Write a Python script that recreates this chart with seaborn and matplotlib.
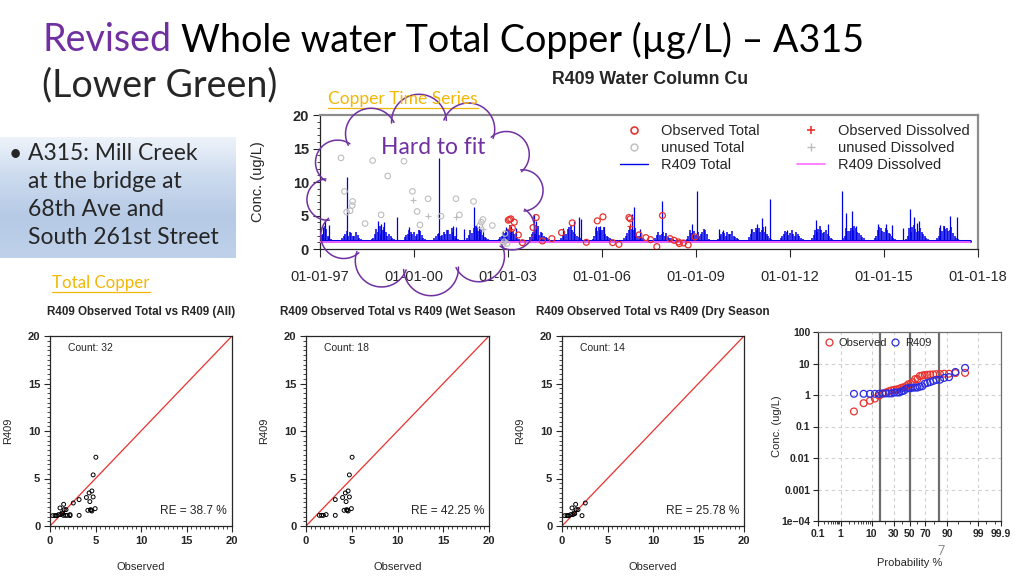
import numpy as np
import pandas as pd
import matplotlib
matplotlib.use("Agg")
import matplotlib.pyplot as plt
import seaborn as sns
from matplotlib.lines import Line2D
from matplotlib.ticker import MultipleLocator, FixedLocator
from statistics import NormalDist

# ---------------- values ----------------
# R409 total Cu background "grass": two interleaved samplings, every 0.1 yr from 1997.0 / 1997.05
grass_start = 1997.0
grass_step = 0.1
grass_conc = [
    2.8, 2.3, 3.0, 1.8, 1.4, 1.3, 1.2, 1.6, 2.2, 2.0,   # 1997
    2.4, 1.9, 2.1, 1.5, 1.3, 1.2, 1.3, 1.7, 3.0, 3.4,   # 1998
    2.9, 2.5, 2.2, 1.6, 1.4, 1.2, 1.3, 1.8, 2.3, 2.6,   # 1999
    2.5, 2.2, 2.7, 1.7, 1.3, 1.2, 1.4, 1.9, 2.4, 2.1,   # 2000
    2.3, 2.8, 3.2, 2.0, 1.5, 1.3, 1.2, 1.6, 2.9, 3.1,   # 2001
    3.3, 2.6, 2.1, 1.6, 1.3, 1.2, 1.3, 1.5, 2.0, 2.4,   # 2002
    3.0, 3.3, 2.2, 1.7, 1.4, 1.2, 1.3, 1.8, 2.6, 2.9,   # 2003
    2.1, 2.4, 1.8, 1.5, 1.3, 1.2, 1.2, 1.6, 2.7, 3.0,   # 2004
    3.4, 2.5, 2.0, 1.6, 1.3, 1.2, 1.2, 1.5, 3.1, 3.3,   # 2005
    2.9, 2.2, 1.8, 1.5, 1.3, 1.2, 1.2, 1.6, 2.4, 3.5,   # 2006
    2.8, 2.3, 2.0, 1.6, 1.3, 1.2, 1.3, 1.7, 2.5, 2.2,   # 2007
    2.0, 1.8, 1.6, 1.4, 1.2, 1.2, 1.2, 1.5, 2.9, 2.3,   # 2008
    2.1, 1.9, 2.6, 2.8, 1.5, 1.3, 1.2, 1.5, 2.2, 2.4,   # 2009
    2.6, 2.3, 2.0, 1.7, 1.4, 1.2, 1.3, 1.8, 3.0, 3.2,   # 2010
    3.1, 2.9, 2.5, 2.0, 1.5, 1.3, 1.2, 1.6, 2.3, 2.5,   # 2011
    2.4, 2.2, 2.6, 1.9, 1.5, 1.2, 1.2, 1.7, 2.9, 3.0,   # 2012
    2.8, 2.5, 2.2, 1.7, 1.4, 1.2, 1.3, 1.6, 3.2, 2.7,   # 2013
    2.9, 3.1, 2.4, 1.8, 1.4, 1.2, 1.2, 1.6, 2.8, 3.2,   # 2014
    2.6, 2.9, 2.3, 1.7, 1.4, 1.2, 1.2, 1.5, 3.1, 3.3,   # 2015
    3.0, 2.7, 2.6, 1.9, 1.5, 1.3, 1.2, 1.6, 3.2, 3.4,   # 2016
    3.1, 2.8, 2.4, 1.7, 1.4, 1.2, 1.2, 1.3,             # 2017
]
grass2_start = 1997.05
grass2_conc = [
    2.1, 3.4, 2.0, 1.5, 1.3, 1.2, 1.4, 1.9, 2.7, 2.5,   # 1997
    2.0, 2.6, 1.7, 1.4, 1.2, 1.2, 1.5, 2.2, 2.6, 2.2,   # 1998
    3.3, 2.0, 1.9, 1.5, 1.3, 1.2, 1.4, 2.1, 2.8, 2.2,   # 1999
    2.0, 2.9, 2.1, 1.5, 1.3, 1.2, 1.6, 2.3, 2.0, 2.6,   # 2000
    2.9, 2.2, 2.6, 1.7, 1.4, 1.2, 1.3, 2.1, 2.4, 3.4,   # 2001
    2.7, 3.0, 1.8, 1.5, 1.2, 1.2, 1.4, 1.8, 2.5, 2.9,   # 2002
    3.6, 2.7, 1.9, 1.5, 1.3, 1.2, 1.4, 2.2, 2.2, 3.4,   # 2003
    2.6, 2.0, 1.6, 1.4, 1.2, 1.2, 1.3, 2.0, 2.3, 3.3,   # 2004
    2.8, 2.2, 1.8, 1.4, 1.2, 1.2, 1.3, 2.0, 2.7, 2.9,   # 2005
    3.3, 2.0, 1.6, 1.4, 1.2, 1.2, 1.3, 2.0, 2.9, 3.0,   # 2006
    3.2, 2.0, 1.8, 1.5, 1.2, 1.2, 1.4, 2.1, 2.1, 2.6,   # 2007
    2.4, 1.6, 1.5, 1.3, 1.2, 1.2, 1.3, 1.9, 2.4, 2.7,   # 2008
    2.5, 2.2, 3.0, 2.2, 1.4, 1.2, 1.3, 1.9, 2.6, 2.0,   # 2009
    2.2, 2.7, 1.8, 1.5, 1.3, 1.2, 1.4, 2.2, 2.6, 2.8,   # 2010
    2.6, 3.3, 2.2, 1.7, 1.4, 1.2, 1.3, 2.0, 2.7, 2.1,   # 2011
    2.8, 1.9, 2.3, 1.7, 1.3, 1.2, 1.3, 2.1, 2.5, 3.4,   # 2012
    2.4, 2.9, 1.9, 1.5, 1.3, 1.2, 1.4, 2.0, 2.7, 3.1,   # 2013
    3.4, 2.6, 2.1, 1.6, 1.3, 1.2, 1.3, 2.0, 3.3, 2.7,   # 2014
    3.1, 2.4, 2.0, 1.5, 1.3, 1.2, 1.3, 1.9, 2.6, 3.6,   # 2015
    2.6, 3.2, 2.2, 1.7, 1.4, 1.2, 1.3, 2.0, 2.7, 3.0,   # 2016
    2.7, 3.3, 2.0, 1.5, 1.3, 1.2, 1.3,                  # 2017
]
# storm peaks of the R409 total series
peak_year = [1997.08, 1997.16, 1997.30, 1997.85, 1998.85, 1998.95, 1999.05, 1999.46,
             1999.85, 2000.15, 2000.80, 2001.25, 2001.33, 2001.60, 2001.90, 2001.97,
             2002.08, 2002.20, 2002.95, 2003.10, 2003.25, 2003.82, 2003.88, 2004.75,
             2005.10, 2005.25, 2005.32, 2005.80, 2005.95, 2006.05, 2006.95, 2007.02,
             2007.20, 2007.92, 2008.86, 2009.02, 2009.72, 2009.85, 2010.75, 2010.95,
             2011.10, 2011.20, 2011.37, 2011.90, 2012.82, 2012.95, 2013.20, 2013.67,
             2013.80, 2013.97, 2014.10, 2014.82, 2015.05, 2015.25, 2015.60, 2015.83,
             2015.95, 2016.05, 2016.12, 2016.80, 2016.90, 2017.10, 2017.32]
peak_conc = [3.3, 4.2, 3.6, 10.8, 4.2, 3.7, 4.0, 4.8,
             3.3, 2.8, 13.6, 3.5, 3.3, 3.0, 6.2, 3.6,
             3.4, 3.2, 3.3, 3.5, 3.2, 5.2, 4.2, 3.2,
             4.2, 4.8, 4.5, 3.5, 3.5, 3.3, 5.2, 6.3,
             3.0, 7.1, 3.7, 8.6, 3.0, 2.9, 3.0, 3.7,
             4.7, 3.5, 7.4, 2.8, 4.3, 3.0, 3.7, 8.7,
             5.4, 5.6, 3.5, 3.7, 3.7, 3.6, 3.2, 6.0,
             4.8, 3.9, 4.2, 3.6, 3.4, 5.0, 4.8]
series_start, series_end = 1997.0, 2017.75
model_base = 1.15      # R409 total low-flow level
dissolved_level = 1.0  # R409 dissolved

obs_tot_year = [2003.01, 2003.05, 2003.09, 2003.14, 2003.20, 2003.33, 2003.46, 2003.80,
                2003.90, 2004.10, 2004.40, 2004.71, 2005.05, 2005.50, 2005.85, 2006.03,
                2006.34, 2006.54, 2006.86, 2006.90, 2007.18, 2007.40, 2007.55, 2007.75,
                2007.93, 2008.17, 2008.30, 2008.44, 2008.47, 2008.60, 2008.75, 2008.97]
obs_tot_conc = [4.3, 4.4, 4.5, 3.1, 4.0, 2.1, 0.95, 3.2,
                4.7, 1.2, 1.55, 2.45, 3.9, 1.0, 4.2, 4.8,
                0.95, 0.7, 4.7, 4.5, 2.1, 1.7, 1.4, 0.35,
                5.0, 1.55, 1.3, 1.05, 0.8, 0.9, 0.6, 1.8]
obs_dis_year = [2006.88, 2003.05]
obs_dis_conc = [3.4, 3.0]
unused_tot_year = [1997.67, 1997.78, 1997.85, 1997.96, 1998.03, 1998.04, 1998.44, 1998.68,
                   1998.95, 1999.16, 1999.68, 1999.95, 2000.10, 2000.19, 2000.45, 2000.86,
                   2001.34, 2001.45, 2001.90, 2002.10, 2002.15, 2002.20, 2002.50, 2002.90,
                   2002.88, 2002.85, 2002.97]
unused_tot_conc = [13.6, 8.6, 5.5, 5.7, 6.5, 7.1, 3.8, 13.2,
                   5.1, 10.9, 13.1, 8.6, 5.6, 3.6, 7.5, 4.9,
                   7.5, 5.1, 7.1, 3.5, 4.0, 4.4, 3.5, 2.3,
                   1.1, 0.8, 0.8]
unused_dis_year = [1999.98, 2000.45, 2001.34, 2002.20, 2002.90]
unused_dis_conc = [7.3, 5.0, 4.8, 3.0, 1.2]
ts_tick_years = [1997, 2000, 2003, 2006, 2009, 2012, 2015, 2018]

# observed vs R409 pairs
wet_obs = [1.46, 1.7, 1.9, 2.2, 3.2, 3.2, 4.0, 4.16, 4.3, 4.38, 4.45, 4.5, 4.6, 4.6, 4.74, 4.74, 4.96, 5.04]
wet_mod = [1.12, 1.12, 1.12, 1.2, 1.12, 2.78, 3.0, 1.65, 3.48, 2.57, 1.72, 1.65, 1.58, 3.69, 3.06, 5.38, 1.83, 7.24]
dry_obs = [0.3, 0.55, 0.66, 0.77, 0.95, 1.1, 1.2, 1.32, 1.4, 1.5, 1.57, 1.76, 2.2, 2.56]
dry_mod = [1.09, 1.09, 1.09, 1.09, 1.2, 1.9, 1.2, 1.37, 1.3, 2.28, 1.72, 1.72, 1.09, 2.42]
all_obs = wet_obs + dry_obs
all_mod = wet_mod + dry_mod
re_all, re_wet, re_dry = 38.7, 42.25, 25.78
one_to_one = [0, 20]

prob_ticks = [0.1, 1, 10, 30, 50, 70, 90, 99, 99.9]
prob_minor = [0.2, 0.3, 0.4, 0.5, 0.6, 0.7, 0.8, 0.9, 2, 3, 4, 5, 6, 7, 8, 9,
              20, 40, 60, 80, 95, 98, 99.5, 99.8]
conc_ticks = [1e-4, 1e-3, 1e-2, 0.1, 1, 10, 100]
conc_labels = ["1e\u221204", "0.001", "0.01", "0.1", "1", "10", "100"]
sigma_lines = [-1, 0, 1]

# ---------------- style ----------------
BLUE = "#0000E6"
MAGENTA = "#FF6CFF"
RED = "#E8322E"
GREY = "#BDBDBD"
PURPLE = "#7030A0"
GOLD = "#F2B705"
SLIDE_FONT = ["Lato", "DejaVu Sans"]

sns.set_style("ticks")
plt.rcParams["font.family"] = ["Liberation Sans", "DejaVu Sans"]
plt.rcParams["axes.linewidth"] = 0.9

W, H = 1024, 576
fig = plt.figure(figsize=(W / 100, H / 100), dpi=100)
fig.patch.set_facecolor("white")


def px_axes(l, t, r, b, **kw):
    return fig.add_axes([l / W, 1 - b / H, (r - l) / W, (b - t) / H], **kw)


def bold_ticks(ax):
    for lbl in ax.get_xticklabels() + ax.get_yticklabels():
        lbl.set_fontweight("bold")


# ---------------- time series ----------------
ts = px_axes(320, 115, 978, 249)
grass_year = grass_start + grass_step * np.arange(len(grass_conc))
grass2_year = grass2_start + grass_step * np.arange(len(grass2_conc))
ts.vlines(grass_year, model_base, grass_conc, color=BLUE, lw=1.1, zorder=2)
ts.vlines(grass2_year, model_base, grass2_conc, color=BLUE, lw=1.1, zorder=2)
ts.vlines(peak_year, model_base, peak_conc, color=BLUE, lw=0.9, zorder=2)
base_df = pd.DataFrame({"year": [series_start, series_end],
                        "total": [model_base, model_base],
                        "diss": [dissolved_level, dissolved_level]})
sns.lineplot(data=base_df, x="year", y="total", color=BLUE, lw=2.2, ax=ts, zorder=2)
sns.lineplot(data=base_df, x="year", y="diss", color=MAGENTA, lw=1.3, ax=ts, zorder=3)
sns.scatterplot(x=unused_tot_year, y=unused_tot_conc, marker="o", fc="none", ec=GREY,
                s=16, lw=0.8, ax=ts, zorder=4)
sns.scatterplot(x=unused_dis_year, y=unused_dis_conc, marker="+", color=GREY,
                s=18, lw=0.8, ax=ts, zorder=4)
sns.scatterplot(x=obs_tot_year, y=obs_tot_conc, marker="o", fc="none", ec=RED,
                s=18, lw=0.9, ax=ts, zorder=5)
sns.scatterplot(x=obs_dis_year, y=obs_dis_conc, marker="+", color=RED,
                s=18, lw=0.9, ax=ts, zorder=5)
ts.set_xlim(1997, 2018)
ts.set_ylim(0, 20)
ts.set_xticks(ts_tick_years)
ts.set_xticklabels([f"01-01-{y % 100:02d}" for y in ts_tick_years])
ts.set_yticks([0, 5, 10, 15, 20])
ts.yaxis.set_minor_locator(MultipleLocator(1))
ts.tick_params(axis="x", labelsize=10.5, length=6, pad=9)
ts.tick_params(axis="y", labelsize=10.5, length=5, pad=3)
ts.tick_params(axis="y", which="minor", length=2)
for lbl in ts.get_yticklabels():
    lbl.set_fontweight("bold")
ts.set_xlabel("")
ts.set_ylabel("")
for side in ["top", "right"]:
    ts.spines[side].set_color("#8C8C8C")
    ts.spines[side].set_linewidth(1.6)

handles = [
    Line2D([], [], ls="none", marker="o", mfc="none", mec=RED, ms=5, mew=1.2, label="Observed Total"),
    Line2D([], [], ls="none", marker="o", mfc="none", mec=GREY, ms=5, mew=1.0, label="unused Total"),
    Line2D([], [], color=BLUE, lw=1.0, label="R409 Total"),
    Line2D([], [], ls="none", marker="+", color=RED, ms=6, mew=1.2, label="Observed Dissolved"),
    Line2D([], [], ls="none", marker="+", color=GREY, ms=6, mew=1.0, label="unused Dissolved"),
    Line2D([], [], color=MAGENTA, lw=1.2, label="R409 Dissolved"),
]
ts.legend(handles=handles, ncol=2, loc="upper left",
          bbox_to_anchor=((620 - 320) / 658, 1 - (124 - 115) / 134),
          frameon=False, fontsize=10.5, handlelength=1.9, handletextpad=0.9,
          columnspacing=2.6, labelspacing=0.22, borderpad=0, borderaxespad=0)

fig.text(650 / W, 1 - 79 / H, "R409 Water Column Cu", ha="center", va="center",
         fontsize=12.8, fontweight="bold")
fig.text(258 / W, 1 - 182 / H, "Conc. (ug/L)", ha="center", va="center",
         rotation=90, fontsize=10.5)


# ---------------- scatter panels ----------------
def scatter_panel(left, right, obs, mod, title, re_val):
    ax = px_axes(left, 336, right, 526)
    sns.lineplot(x=one_to_one, y=one_to_one, color=RED, lw=0.9, ax=ax)
    sns.scatterplot(x=obs, y=mod, marker="o", fc="none", ec="black", s=8, lw=0.7, ax=ax, zorder=3)
    ax.set_xlim(0, 20)
    ax.set_ylim(0, 20)
    ax.set_xticks([0, 5, 10, 15, 20])
    ax.set_yticks([0, 5, 10, 15, 20])
    ax.xaxis.set_minor_locator(MultipleLocator(0.5))
    ax.yaxis.set_minor_locator(MultipleLocator(0.5))
    ax.tick_params(labelsize=8, length=4, pad=3)
    ax.tick_params(which="minor", length=2)
    bold_ticks(ax)
    ax.set_xlabel("Observed", fontsize=8)
    ax.set_ylabel("R409", fontsize=8)
    ax.xaxis.set_label_coords(0.5, -36 / 190)
    ax.yaxis.set_label_coords(-37 / 182, 0.5)
    ax.text(0.5, 1 + 24 / 190, title, transform=ax.transAxes, ha="center", va="center",
            fontsize=8.4, fontweight="bold")
    ax.text(0.1, 1 - 12 / 190, f"Count: {len(obs)}", transform=ax.transAxes,
            ha="left", va="center", fontsize=7.5)
    ax.text(1 - 5 / 182, 15 / 190, f"RE = {re_val} %", transform=ax.transAxes,
            ha="right", va="center", fontsize=8.6)
    return ax


scatter_panel(50, 232, all_obs, all_mod, "R409 Observed Total vs R409 (All)", re_all)
scatter_panel(306, 489, wet_obs, wet_mod, "R409 Observed Total vs R409 (Wet Season", re_wet)
scatter_panel(562, 744, dry_obs, dry_mod, "R409 Observed Total vs R409 (Dry Season", re_dry)

# ---------------- probability plot ----------------
nd = NormalDist()
pr = px_axes(818, 332, 1001, 521)
n = len(all_obs)
z = [nd.inv_cdf((i + 1) / (n + 1)) for i in range(n)]
prob_df = pd.DataFrame({"z": z, "obs": sorted(all_obs), "mod": sorted(all_mod)})
for xz in sigma_lines:
    pr.axvline(xz, color="#6E6E6E", lw=1.6, zorder=1)
sns.scatterplot(data=prob_df, x="z", y="obs", marker="o", fc="none", ec=RED, s=24, lw=0.9,
                ax=pr, zorder=3)
sns.scatterplot(data=prob_df, x="z", y="mod", marker="o", fc="none", ec="#2B2BE0", s=24, lw=0.9,
                ax=pr, zorder=4)
pr.set_yscale("log")
pr.set_ylim(1e-4, 100)
pr.set_xlim(nd.inv_cdf(0.001), nd.inv_cdf(0.999))
pr.xaxis.set_major_locator(FixedLocator([nd.inv_cdf(p / 100) for p in prob_ticks]))
pr.set_xticklabels([f"{p:g}" for p in prob_ticks])
pr.xaxis.set_minor_locator(FixedLocator([nd.inv_cdf(p / 100) for p in prob_minor]))
pr.yaxis.set_major_locator(FixedLocator(conc_ticks))
pr.yaxis.set_minor_locator(FixedLocator([]))
pr.set_yticklabels(conc_labels)
pr.grid(True, which="major", color="#CFCFCF", ls=(0, (3, 3)), lw=0.8)
pr.tick_params(labelsize=7.5, length=3.5, pad=2)
pr.tick_params(which="minor", length=2)
bold_ticks(pr)
pr.set_xlabel("Probability %", fontsize=8)
pr.set_ylabel("Conc. (ug/L)", fontsize=8)
pr.xaxis.set_label_coords(0.5, -37 / 189)
pr.yaxis.set_label_coords(-36 / 183, 0.5)
for side in ["top", "right"]:
    pr.spines[side].set_color("#6E6E6E")
pr_handles = [
    Line2D([], [], ls="none", marker="o", mfc="none", mec=RED, ms=5, mew=0.9, label="Observed"),
    Line2D([], [], ls="none", marker="o", mfc="none", mec="#2B2BE0", ms=5, mew=0.9, label="R409"),
]
pr.legend(handles=pr_handles, ncol=2, loc="upper left", frameon=False, fontsize=8,
          handlelength=0.8, handletextpad=0.5, columnspacing=0.3,
          bbox_to_anchor=(0.01, 0.99), borderaxespad=0)

# ---------------- slide overlay (pixel coordinates) ----------------
ov = fig.add_axes([0, 0, 1, 1], zorder=20)
ov.patch.set_alpha(0)
grad = np.linspace(0, 1, 128)[:, None]
box_cmap = matplotlib.colors.LinearSegmentedColormap.from_list(
    "box", ["#EEF3FA", "#CBDAEE", "#B6CAE6", "#BFD1EA"])
ov.imshow(grad, cmap=box_cmap, extent=(0, 236, 258, 137), aspect="auto", zorder=0)
ov.set_xlim(0, W)
ov.set_ylim(H, 0)
ov.axis("off")
renderer = fig.canvas.get_renderer()


def text_width(s, fs, **kw):
    t = ov.text(0, 0, s, fontsize=fs, **kw)
    w = t.get_window_extent(renderer).width
    t.remove()
    return w


def fit_text(x, y, s, width, base=20.0, **kw):
    fs = base * width / text_width(s, base, **kw)
    return ov.text(x, y, s, fontsize=fs, **kw)


def underline(t, color):
    bb = t.get_window_extent(renderer)
    yl = H - bb.y0 + 1
    ov.plot([bb.x0, bb.x1], [yl, yl], color=color, lw=0.9)


# title: purple "Revised" followed by the black remainder
title_rest = "Whole water Total Copper (\u00b5g/L) \u2013 A315"
fs = 20.0 * 823 / text_width("Revised " + title_rest, 20.0, family=SLIDE_FONT)
shift = (text_width("Revised W", fs, family=SLIDE_FONT)
         - text_width("W", fs, family=SLIDE_FONT))
ov.text(42, 40, "Revised", fontsize=fs, va="center", ha="left", family=SLIDE_FONT,
        color=PURPLE)
ov.text(42 + shift, 40, title_rest, fontsize=fs, va="center", ha="left",
        family=SLIDE_FONT, color="black")
ov.text(42, 85, "(Lower Green)", fontsize=fs, va="center", ha="left", family=SLIDE_FONT)

# bullet box text
bl = fit_text(28, 237, "South 261st Street", 190, va="center", ha="left", family=SLIDE_FONT)
bfs = bl.get_fontsize()
for yy, s in zip([154, 182, 209], ["A315: Mill Creek", "at the bridge at", "68th Ave and"]):
    ov.text(28, yy, s, fontsize=bfs, va="center", ha="left", family=SLIDE_FONT)
ov.text(9, 154, "\u2022", fontsize=bfs, va="center", ha="left", family=SLIDE_FONT)

# hyperlink captions
t1 = fit_text(328, 99, "Copper Time Series", 150, va="center", ha="left",
              family=SLIDE_FONT, color=GOLD)
underline(t1, GOLD)
t2 = fit_text(52, 283, "Total Copper", 97, va="center", ha="left",
              family=SLIDE_FONT, color=GOLD)
underline(t2, GOLD)

ov.text(941, 551, "7", fontsize=9, color="#8C8C8C", ha="center", va="center",
        family=SLIDE_FONT)

# cloud callout
cx, cy, rx, ry, nb = 425, 195, 101, 76, 12
ang = np.linspace(0, 2 * np.pi, nb + 1) + 0.2
ex, ey = cx + rx * np.cos(ang), cy + ry * np.sin(ang)
for i in range(nb):
    p0 = np.array([ex[i], ey[i]])
    p1 = np.array([ex[i + 1], ey[i + 1]])
    m = (p0 + p1) / 2
    r = np.linalg.norm(p1 - p0) / 2 * 1.05
    a0 = np.arctan2(*(p0 - m)[::-1])
    best = None
    for sgn in (1, -1):
        tt = a0 + sgn * np.linspace(0, np.pi, 40)
        arc = np.c_[m[0] + r * np.cos(tt), m[1] + r * np.sin(tt)]
        d = np.hypot(arc[20, 0] - cx, arc[20, 1] - cy)
        if best is None or d > best[0]:
            best = (d, arc)
    ov.plot(best[1][:, 0], best[1][:, 1], color=PURPLE, lw=1.1, solid_capstyle="round")
fit_text(381, 147, "Hard to fit", 104, va="center", ha="left", family=SLIDE_FONT,
         color=PURPLE)

fig.savefig("out.png", dpi=100)
